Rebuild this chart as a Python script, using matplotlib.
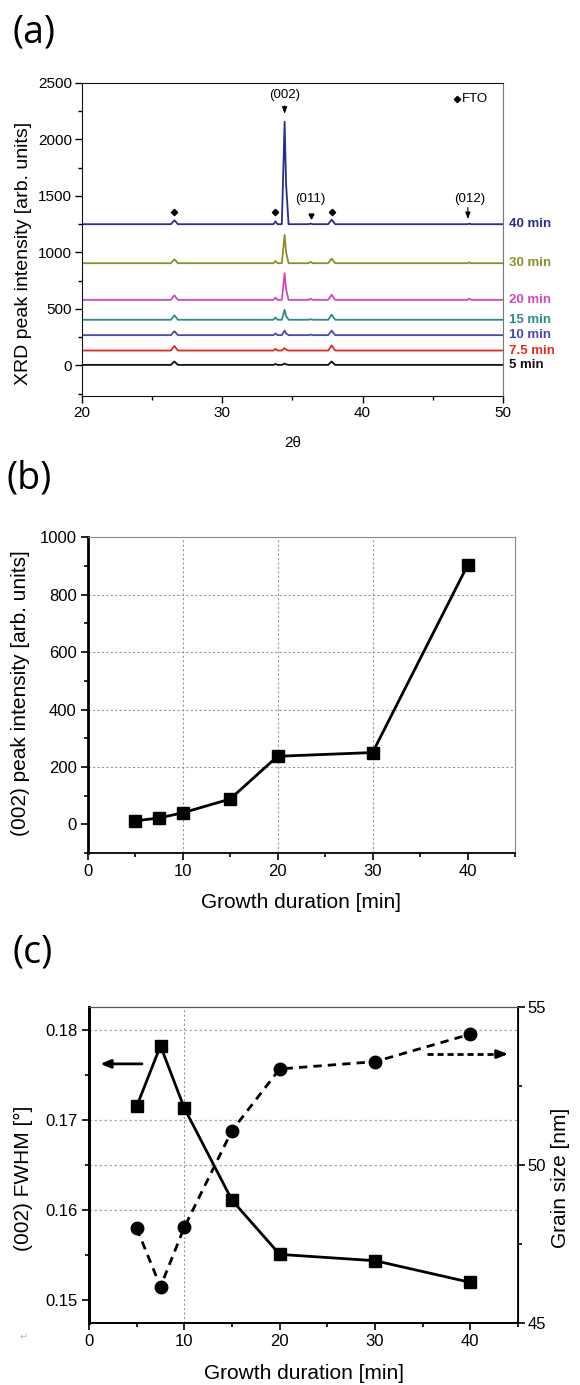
import matplotlib
matplotlib.use("Agg")
import matplotlib.pyplot as plt
from matplotlib.ticker import MultipleLocator

plt.rcParams["font.family"] = ["Liberation Sans", "DejaVu Sans"]

# ---- (a) XRD patterns ----
samples = ["5 min", "7.5 min", "10 min", "15 min", "20 min", "30 min", "40 min"]
sample_colors = ["#111111", "#e5281e", "#4848b4", "#2a8c88", "#d048c0", "#8c8c28", "#2c2c8c"]
offsets = [5, 132, 268, 404, 580, 904, 1249]

peak_pos = [26.6, 33.8, 34.45, 36.3, 37.8, 47.6]
fto1_h = [30, 40, 35, 40, 40, 35, 35]
fto2_h = [8, 15, 15, 20, 20, 20, 25]
zno002_h = [12, 22, 40, 88, 236, 250, 906]
zno011_h = [0, 0, 5, 5, 10, 12, 5]
fto3_h = [30, 45, 40, 45, 45, 40, 40]
zno012_h = [0, 0, 0, 0, 10, 8, 5]
peak_heights = [fto1_h, fto2_h, zno002_h, zno011_h, fto3_h, zno012_h]
peak_halfwidth = [0.25, 0.15, 0.2, 0.15, 0.25, 0.12]

# ---- (b) (002) peak intensity ----
growth = [5, 7.5, 10, 15, 20, 30, 40]
intensity_002 = [12, 22, 40, 88, 237, 250, 902]

# ---- (c) FWHM and grain size ----
fwhm = [0.1715, 0.1782, 0.1713, 0.1611, 0.1551, 0.1544, 0.1520]
grain = [48.0, 46.15, 48.03, 51.09, 53.04, 53.27, 54.14]

W, H = 580, 1385
fig = plt.figure(figsize=(W / 100, H / 100), dpi=100)


def box(l, t, r, b):
    return [l / W, 1 - b / H, (r - l) / W, (b - t) / H]


def trace(i):
    base = offsets[i]
    xs, ys = [20.0], [base]
    for k, pos in enumerate(peak_pos):
        h = peak_heights[k][i]
        hw = peak_halfwidth[k]
        if k == 2:
            # main peak with a small shoulder on the high-angle side
            xs += [pos - hw, pos, pos + 0.1, pos + 0.28]
            ys += [base, base + h, base + 0.4 * h, base]
        else:
            xs += [pos - hw, pos, pos + hw]
            ys += [base, base + h, base]
    xs.append(50.0)
    ys.append(base)
    return xs, ys


def place_labels(ax, xl=None, yl=None):
    if xl is not None:
        ax.xaxis.set_label_coords(*xl)
        ax.xaxis.label.set_va("center")
    if yl is not None:
        ax.yaxis.set_label_coords(*yl)
        ax.yaxis.label.set_va("center")


# ================= (a) =================
axa = fig.add_axes(box(81.7, 82.7, 503, 396))
for i, name in enumerate(samples):
    xs, ys = trace(i)
    axa.plot(xs, ys, color=sample_colors[i], lw=1.3)
    axa.annotate(name, xy=(1.015, offsets[i]), xycoords=("axes fraction", "data"),
                 color=sample_colors[i], fontsize=9.5, fontweight="bold",
                 va="center", ha="left", annotation_clip=False)

axa.set_xlim(20, 50)
axa.set_ylim(-270, 2500)
axa.xaxis.set_major_locator(MultipleLocator(10))
axa.xaxis.set_minor_locator(MultipleLocator(5))
axa.yaxis.set_major_locator(MultipleLocator(500))
axa.yaxis.set_minor_locator(MultipleLocator(250))
axa.tick_params(which="both", direction="out", top=False, right=False, labelsize=11, width=1.0)
axa.tick_params(which="major", length=5, pad=2)
axa.tick_params(which="minor", length=3)
for s in ["left", "bottom", "top"]:
    axa.spines[s].set_color("#111111")
axa.spines["right"].set_color("#777777")
axa.set_ylabel("XRD peak intensity [arb. units]", fontsize=14)
axa.set_xlabel("2θ", fontsize=11)
place_labels(axa, xl=(0.5, -0.15), yl=(-0.137, 0.455))

# FTO markers and peak labels on the 40 min pattern
top = offsets[-1]
axa.plot([peak_pos[0], peak_pos[1], peak_pos[4]], [top + 105] * 3, ls="none",
         marker="D", ms=3.2, color="black")
axa.annotate("", xy=(peak_pos[2], 2200), xytext=(peak_pos[2], 2320),
             arrowprops=dict(arrowstyle="-|>,head_length=0.4,head_width=0.15", color="black", lw=0.8))
axa.text(peak_pos[2], 2390, "(002)", ha="center", va="center", fontsize=9.5)
axa.text(peak_pos[3], 1470, "(011)", ha="center", va="center", fontsize=9.5)
axa.plot([peak_pos[3]], [top + 75], ls="none", marker="v", ms=3.5, color="black")
axa.annotate("", xy=(peak_pos[5] - 0.1, top + 20), xytext=(peak_pos[5] - 0.1, 1420),
             arrowprops=dict(arrowstyle="-|>,head_length=0.4,head_width=0.15", color="black", lw=0.8))
axa.text(peak_pos[5], 1470, "(012)", ha="center", va="center", fontsize=9.5)
axa.plot([46.7], [2355], ls="none", marker="D", ms=3.2, color="black")
axa.text(47.1, 2355, "FTO", ha="left", va="center", fontsize=9.5)

fig.text(13 / W, 1 - 32 / H, "(a)", fontsize=27, family="Open Sans", va="center", ha="left")

# ================= (b) =================
axb = fig.add_axes(box(87.7, 537.3, 515, 853))
for gx in [10, 20, 30]:
    axb.axvline(gx, color="#999999", lw=0.8, ls=(0, (2, 2)), zorder=0)
for gy in [200, 400, 600, 800]:
    axb.axhline(gy, color="#999999", lw=0.8, ls=(0, (2, 2)), zorder=0)
axb.plot(growth, intensity_002, color="black", lw=2.0, marker="s", ms=8.5)
axb.set_xlim(0, 45)
axb.set_ylim(-100, 1000)
axb.xaxis.set_major_locator(MultipleLocator(10))
axb.xaxis.set_minor_locator(MultipleLocator(5))
axb.yaxis.set_major_locator(MultipleLocator(200))
axb.yaxis.set_minor_locator(MultipleLocator(100))
axb.tick_params(which="both", direction="out", top=False, right=False, labelsize=12, width=1.2)
axb.tick_params(which="major", length=5, pad=3)
axb.tick_params(which="minor", length=3)
axb.spines["left"].set_linewidth(2.0)
axb.spines["bottom"].set_linewidth(1.3)
axb.spines["top"].set_color("#888888")
axb.spines["right"].set_color("#888888")
axb.set_ylabel("(002) peak intensity [arb. units]", fontsize=15)
axb.set_xlabel("Growth duration [min]", fontsize=15)
place_labels(axb, xl=(0.5, -0.158), yl=(-0.158, 0.507))

fig.text(7 / W, 1 - 479 / H, "(b)", fontsize=27, family="Open Sans", va="center", ha="left")

# ================= (c) =================
axc = fig.add_axes(box(89, 1007, 518, 1323))
axc2 = axc.twinx()
axc.axvline(10, color="#999999", lw=0.8, ls=(0, (2, 2)), zorder=0)
for gy in [0.16, 0.17, 0.18]:
    axc.axhline(gy, color="#aaaaaa", lw=0.9, ls=(0, (2, 2)), zorder=0)
axc2.axhline(50, color="#aaaaaa", lw=0.9, ls=(0, (2, 2)), zorder=0)

axc.plot(growth, fwhm, color="black", lw=2.0, marker="s", ms=8.5)
axc2.plot(growth, grain, color="black", lw=2.0, ls=(0, (3, 2.2)), marker="o", ms=9)

axc.set_xlim(0, 45)
axc.xaxis.set_major_locator(MultipleLocator(10))
axc.xaxis.set_minor_locator(MultipleLocator(5))
axc.yaxis.set_major_locator(MultipleLocator(0.01))
axc.yaxis.set_minor_locator(MultipleLocator(0.005))
axc.yaxis.set_major_formatter(lambda v, p: f"{v:.2f}")
axc.set_ylim(0.1475, 0.1825)
axc2.set_ylim(45, 55)
axc2.yaxis.set_major_locator(MultipleLocator(5))
axc2.yaxis.set_minor_locator(MultipleLocator(2.5))
axc.tick_params(which="both", direction="out", top=False, labelsize=12, width=1.2)
axc.tick_params(which="major", length=5, pad=3)
axc.tick_params(which="minor", length=3)
axc2.tick_params(which="both", direction="out", labelsize=12, width=1.2)
axc2.tick_params(which="major", length=5, pad=2)
axc2.tick_params(which="minor", length=3)
axc.spines["left"].set_linewidth(2.0)
axc2.spines["left"].set_linewidth(2.0)
axc.spines["bottom"].set_linewidth(1.3)
axc2.spines["bottom"].set_linewidth(1.3)
axc2.spines["right"].set_linewidth(1.3)
axc.spines["top"].set_color("#555555")
axc2.spines["top"].set_color("#555555")
axc.set_ylabel("(002) FWHM [°]", fontsize=15)
axc2.set_ylabel("Grain size [nm]", fontsize=15)
axc.set_xlabel("Growth duration [min]", fontsize=15)
place_labels(axc, xl=(0.5, -0.161), yl=(-0.152, 0.459))
place_labels(axc2, yl=(1.100, 0.459))

# direction arrows
axc.annotate("", xy=(0.9, 0.1762), xytext=(5.85, 0.1762),
             arrowprops=dict(arrowstyle="-|>,head_length=0.6,head_width=0.25", color="black", lw=2.0))
axc2.plot([35.5, 43.3], [53.51, 53.51], color="black", lw=2.0, ls=(0, (2.2, 1.4)))
axc2.annotate("", xy=(44.2, 53.51), xytext=(43.0, 53.51),
              arrowprops=dict(arrowstyle="-|>,head_length=0.6,head_width=0.25", color="black", lw=2.0))

fig.text(13 / W, 1 - 952 / H, "(c)", fontsize=27, family="Open Sans", va="center", ha="left")
fig.text(20 / W, 1 - 1340 / H, "↵", fontsize=7, color="#bbbbbb", family="DejaVu Sans")

fig.savefig("out.png", dpi=100)
